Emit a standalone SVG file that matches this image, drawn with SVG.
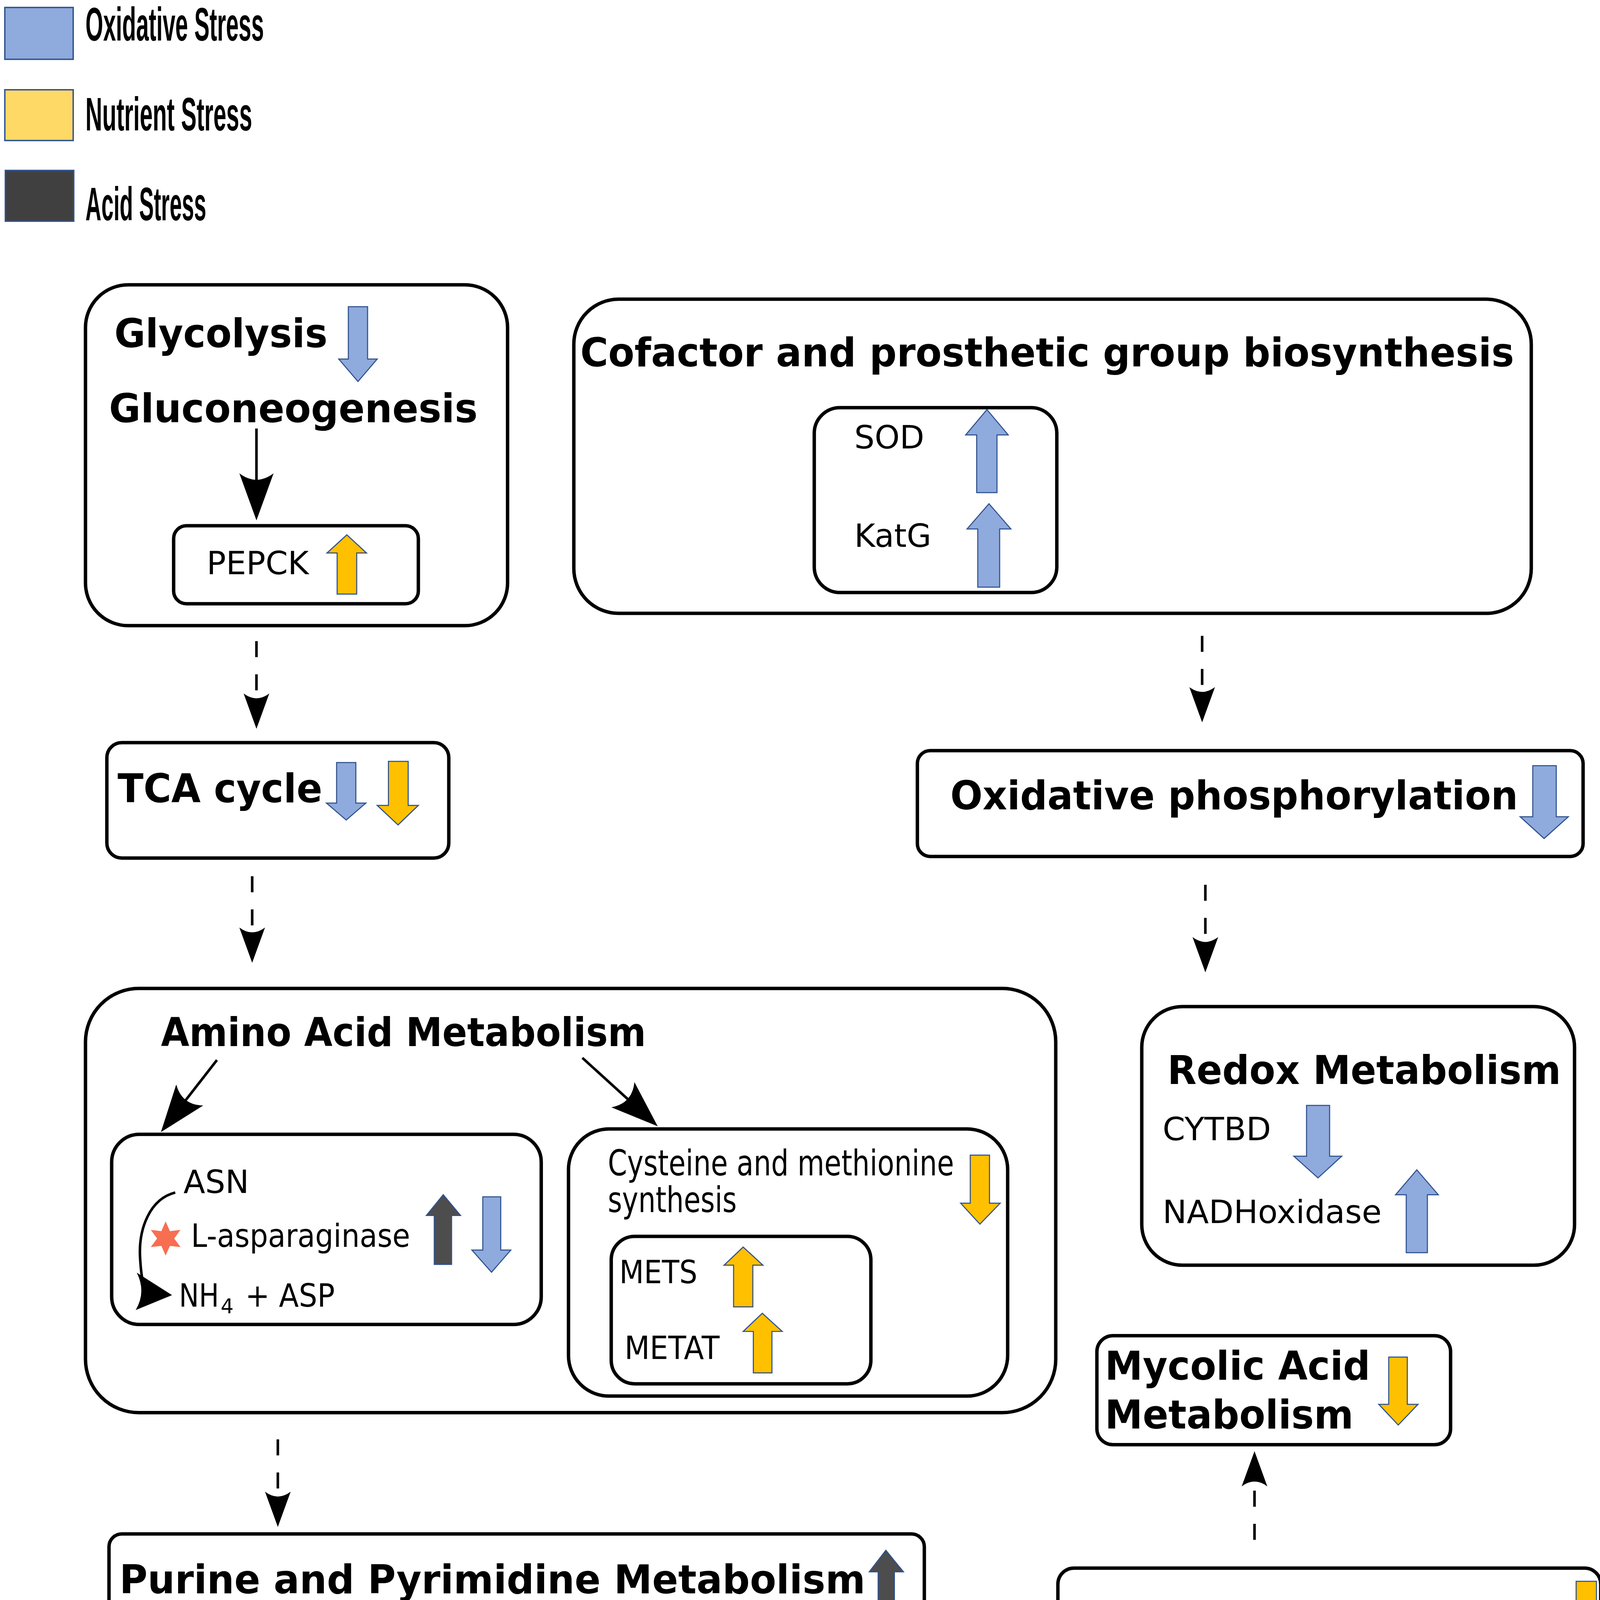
<svg xmlns="http://www.w3.org/2000/svg" width="4117" height="4293" viewBox="0 0 4117 4293">
<style>
.box{fill:#fff;stroke:#000;stroke-width:3.2}
.b{font-family:"DejaVu Sans",Verdana,sans-serif;font-weight:bold;font-size:37px;fill:#000}
.r{font-family:"DejaVu Sans",Verdana,sans-serif;font-size:30px;fill:#000}
.c{font-family:"DejaVu Sans Condensed","DejaVu Sans",sans-serif;font-size:33px;fill:#000}
.lg{font-family:"Liberation Sans",Arial,sans-serif;font-weight:bold;font-size:44px;fill:#000}
.blue{fill:#8FAADC;stroke:#2F528F;stroke-width:1}
.yel{fill:#FFC000;stroke:#2F528F;stroke-width:1}
.dark{fill:#4D4D4D;stroke:#2F528F;stroke-width:1}
.conn{stroke:#000;stroke-width:2.4;fill:none}
.dash{stroke-dasharray:15 16}
</style>
<defs>
<marker id="ah" markerUnits="userSpaceOnUse" markerWidth="34" markerHeight="26" refX="9" refY="12" orient="auto" overflow="visible">
<path d="M0,0 L33,12 L0,24 Q9,12 0,0 Z" fill="#000"/>
</marker>
<marker id="ahL" markerUnits="userSpaceOnUse" markerWidth="46" markerHeight="34" refX="12" refY="16" orient="auto" overflow="visible">
<path d="M0,0 L44,16 L0,32 Q12,16 0,0 Z" fill="#000"/>
</marker>
</defs>
<rect width="4117" height="4293" fill="#fff"/>
<g transform="scale(2.73555)">
<g id="legend">
<rect x="4.5" y="7" width="64" height="48.5" fill="#8FAADC" stroke="#2F528F" stroke-width="1.3"/>
<text class="lg" x="80" y="38" textLength="167" lengthAdjust="spacingAndGlyphs">Oxidative Stress</text>
<rect x="4.5" y="84" width="64" height="47.5" fill="#FFD966" stroke="#2F528F" stroke-width="1.3"/>
<text class="lg" x="80" y="122" textLength="156" lengthAdjust="spacingAndGlyphs">Nutrient Stress</text>
<rect x="5" y="159.5" width="64" height="47.5" fill="#404040" stroke="#2F528F" stroke-width="1.3"/>
<text class="lg" x="80" y="206" textLength="113" lengthAdjust="spacingAndGlyphs">Acid Stress</text>
</g>
<g id="glycolysis">
<rect class="box" x="80" y="266.5" width="395" height="319" rx="40"/>
<text class="b" x="107" y="325" textLength="199.5" lengthAdjust="spacingAndGlyphs">Glycolysis</text>
<polygon class="blue" points="326,287 344,287 344,336 353,336 335,357 317,336 326,336"/>
<text class="b" x="102" y="395" textLength="345" lengthAdjust="spacingAndGlyphs">Gluconeogenesis</text>
</g>
<g id="pepck">
<rect class="box" x="162.5" y="492" width="229" height="73" rx="12"/>
<text class="r" x="193.4" y="537.4" textLength="95.6" lengthAdjust="spacingAndGlyphs">PEPCK</text>
<polygon class="yel" points="324.6,500.5 343,517.5 333.8,517.5 333.8,556 315.5,556 315.5,517.5 306,517.5"/>
</g>
<g id="cofactor">
<rect class="box" x="537" y="280" width="896" height="294" rx="42"/>
<text class="b" x="543" y="343" textLength="874" lengthAdjust="spacingAndGlyphs">Cofactor and prosthetic group biosynthesis</text>
</g>
<g id="sod-katg">
<rect class="box" x="762" y="381.5" width="227" height="173" rx="24"/>
<text class="r" x="799.5" y="419.6" textLength="65.5" lengthAdjust="spacingAndGlyphs">SOD</text>
<polygon class="blue" points="923.6,383.3 943.5,407 933,407 933,461 914,461 914,407 903.7,407"/>
<text class="r" x="799.5" y="511.8" textLength="72" lengthAdjust="spacingAndGlyphs">KatG</text>
<polygon class="blue" points="925.5,471.4 946,495 935.5,495 935.5,549.5 915,549.5 915,495 905,495"/>
</g>
<g id="tca">
<rect class="box" x="100" y="695" width="320" height="108" rx="14"/>
<text class="b" x="110" y="751" textLength="191.6" lengthAdjust="spacingAndGlyphs">TCA cycle</text>
<polygon class="blue" points="315,713.6 333,713.6 333,751.5 342.4,751.5 324,767.4 305.5,751.5 315,751.5"/>
<polygon class="yel" points="363.5,712.5 382,712.5 382,753.7 391.5,753.7 372.5,772 353,753.7 363.5,753.7"/>
</g>
<g id="oxphos">
<rect class="box" x="858.5" y="702.5" width="623" height="99" rx="12"/>
<text class="b" x="889.3" y="757.3" textLength="531.3" lengthAdjust="spacingAndGlyphs">Oxidative phosphorylation</text>
<polygon class="blue" points="1434.4,716.5 1456.4,716.5 1456.4,764.3 1467.7,764.3 1445,784.7 1422.6,764.3 1434.4,764.3"/>
</g>
<g id="amino">
<rect class="box" x="80" y="925" width="908" height="397" rx="50"/>
<text class="b" x="150.6" y="979" textLength="454" lengthAdjust="spacingAndGlyphs">Amino Acid Metabolism</text>
</g>
<g id="asn">
<rect class="box" x="104.5" y="1061.5" width="402" height="178" rx="26"/>
<text class="r" x="171.7" y="1116.5" textLength="61.3" lengthAdjust="spacingAndGlyphs">ASN</text>
<polygon points="155,1143 159,1152.1 168.9,1151 163,1159 168.9,1167 159,1165.9 155,1175 151,1165.9 141.1,1167 147,1159 141.1,1151 151,1152.1" fill="#F86E51"/>
<text class="r" x="178.8" y="1167" textLength="205" lengthAdjust="spacingAndGlyphs">L-asparaginase</text>
<text class="r" x="167.5" y="1222.8" textLength="37.5" lengthAdjust="spacingAndGlyphs">NH</text>
<text class="r" x="206.5" y="1229" style="font-size:19px">4</text>
<text class="r" x="229.6" y="1222.8" textLength="83.7" lengthAdjust="spacingAndGlyphs">+ ASP</text>
<path class="conn" d="M164,1116 C140,1122 130,1150 131,1175 C132,1195 134,1204 138,1209"/>
<path d="M128,1191 L161,1212 L127,1226 Q137,1209 128,1191 Z" fill="#000"/>
<polygon class="dark" points="414.8,1118 431,1137.5 422.6,1137.5 422.6,1183.3 406.4,1183.3 406.4,1137.5 399,1137.5"/>
<polygon class="blue" points="451.8,1120 468.6,1120 468.6,1169.8 478,1169.8 460,1190.6 441.6,1169.8 451.8,1169.8"/>
</g>
<g id="cysteine">
<rect class="box" x="532" y="1056.5" width="411" height="250" rx="38"/>
<text class="c" x="568.8" y="1099.8" textLength="324" lengthAdjust="spacingAndGlyphs">Cysteine and methionine</text>
<text class="c" x="568.8" y="1134.3" textLength="120.7" lengthAdjust="spacingAndGlyphs">synthesis</text>
<polygon class="yel" points="908,1081 926,1081 926,1126 936,1126 917,1145.6 899,1126 908,1126"/>
</g>
<g id="mets">
<rect class="box" x="572" y="1157" width="243" height="138" rx="22"/>
<text class="r" x="579.6" y="1200.8" textLength="73" lengthAdjust="spacingAndGlyphs">METS</text>
<polygon class="yel" points="695.5,1167 714,1184 704.5,1184 704.5,1223 686.5,1223 686.5,1184 677.6,1184"/>
<text class="r" x="584.4" y="1271.7" textLength="89" lengthAdjust="spacingAndGlyphs">METAT</text>
<polygon class="yel" points="713.4,1229 732,1246 722.4,1246 722.4,1284.8 705,1284.8 705,1246 695.5,1246"/>
</g>
<g id="redox">
<rect class="box" x="1068.5" y="942" width="405" height="242" rx="38"/>
<text class="b" x="1092.5" y="1014.4" textLength="368.3" lengthAdjust="spacingAndGlyphs">Redox Metabolism</text>
<text class="r" x="1088" y="1067" textLength="101.5" lengthAdjust="spacingAndGlyphs">CYTBD</text>
<polygon class="blue" points="1222.7,1034.5 1244.3,1034.5 1244.3,1082 1255.6,1082 1233.4,1102.3 1210.8,1082 1222.7,1082"/>
<text class="r" x="1088" y="1144.5" textLength="205" lengthAdjust="spacingAndGlyphs">NADHoxidase</text>
<polygon class="blue" points="1325.9,1094.8 1346,1118.1 1335.8,1118.1 1335.8,1172.3 1316,1172.3 1316,1118.1 1306,1118.1"/>
</g>
<g id="mycolic">
<rect class="box" x="1026.5" y="1250" width="331" height="102" rx="15"/>
<text class="b" x="1034" y="1291" textLength="248.4" lengthAdjust="spacingAndGlyphs">Mycolic Acid</text>
<text class="b" x="1034" y="1337" textLength="232.6" lengthAdjust="spacingAndGlyphs">Metabolism</text>
<polygon class="yel" points="1299.6,1270 1317,1270 1317,1314.2 1327,1314.2 1308.5,1333.6 1290.3,1314.2 1299.6,1314.2"/>
</g>
<g id="fatty">
<rect class="box" x="990" y="1467.5" width="508" height="95" rx="15"/>
<text class="b" x="1003" y="1526" textLength="451.6" lengthAdjust="spacingAndGlyphs">Fatty Acid Metabolism</text>
<polygon class="yel" points="1475,1479.8 1494,1479.8 1494,1525 1502.5,1525 1484.6,1544 1466,1525 1475,1525"/>
</g>
<g id="purine">
<rect class="box" x="102" y="1435.5" width="763" height="100" rx="12"/>
<text class="b" x="111.8" y="1491" textLength="698" lengthAdjust="spacingAndGlyphs">Purine and Pyrimidine Metabolism</text>
<polygon class="dark" points="829,1450.8 845.5,1471 837,1471 837,1516.7 821.8,1516.7 821.8,1471 813.5,1471"/>
</g>
<g id="connectors">
<line class="conn" x1="240" y1="401" x2="240" y2="455" marker-end="url(#ahL)"/>
<line class="conn" x1="203" y1="992" x2="170.2" y2="1034.2" marker-end="url(#ahL)"/>
<line class="conn" x1="545" y1="990" x2="591.8" y2="1032.5" marker-end="url(#ahL)"/>
<line class="conn dash" x1="240" y1="600" x2="240" y2="658" marker-end="url(#ah)"/>
<line class="conn dash" x1="236" y1="820" x2="236" y2="877" marker-end="url(#ah)"/>
<line class="conn dash" x1="1125" y1="595" x2="1125" y2="652" marker-end="url(#ah)"/>
<line class="conn dash" x1="1128" y1="828" x2="1128" y2="886" marker-end="url(#ah)"/>
<line class="conn dash" x1="260" y1="1347" x2="260" y2="1405" marker-end="url(#ah)"/>
<line class="conn dash" x1="1174" y1="1441" x2="1174" y2="1382" marker-end="url(#ah)"/>
</g>
</g>
</svg>
